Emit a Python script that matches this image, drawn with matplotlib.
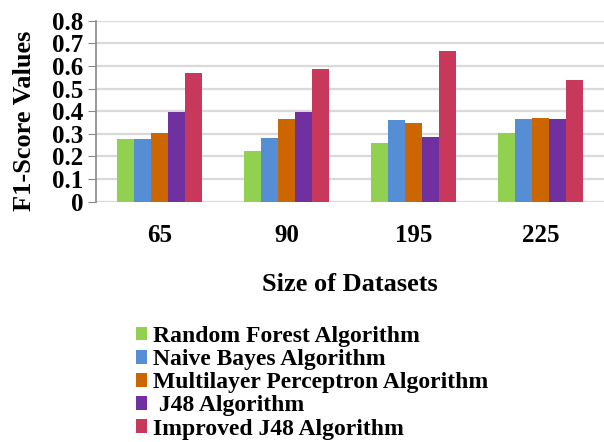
import matplotlib.pyplot as plt
import numpy as np

# dataset sizes on the x axis
sizes = ['65', '90', '195', '225']

random_forest = [0.277, 0.224, 0.258, 0.302]
naive_bayes = [0.277, 0.280, 0.359, 0.365]
multilayer = [0.305, 0.365, 0.346, 0.370]
j48 = [0.395, 0.395, 0.286, 0.365]
improved_j48 = [0.569, 0.586, 0.666, 0.538]

labels = ['Random Forest Algorithm', 'Naive Bayes Algorithm',
          'Multilayer Perceptron Algorithm', ' J48 Algorithm',
          'Improved J48 Algorithm']
colors = ['#92d050', '#558ed5', '#cc6600', '#7030a0', '#c8385a']
series = [random_forest, naive_bayes, multilayer, j48, improved_j48]

plt.rcParams['font.family'] = ['Liberation Serif', 'DejaVu Serif']
plt.rcParams['font.weight'] = 'bold'

fig = plt.figure(figsize=(6.04, 4.42), dpi=100)
ax = fig.add_axes([0.159, 0.544, 0.841, 0.409])

x = np.arange(len(sizes))
w = 0.134
handles = []
for i, vals in enumerate(series):
    b = ax.bar(x + (i - 2) * w, vals, w, color=colors[i], label=labels[i], zorder=3)
    handles.append(b)

ax.set_xlim(-0.5, 3.5)
ax.set_ylim(0, 0.8)
ax.set_yticks(np.arange(0, 0.81, 0.1))
ax.set_yticklabels(['0'] + ['%.1f' % v for v in np.arange(0.1, 0.81, 0.1)], fontsize=18)
ax.set_xticks(x)
ax.set_xticklabels(sizes, fontsize=18)
ax.tick_params(axis='x', length=0, pad=16)
ax.tick_params(axis='y', length=6, color='#888888', pad=3)
ax.yaxis.grid(True, color='#d9d9d9', linewidth=1.6, zorder=0)
for s in ['top', 'right', 'bottom']:
    ax.spines[s].set_visible(False)
ax.spines['left'].set_color('#888888')
ax.spines['left'].set_linewidth(1.2)

ax.set_ylabel('F1-Score Values', fontsize=19, fontweight='bold')
ax.yaxis.set_label_coords(-0.118, 0.446)
ax.set_xlabel('Size of Datasets', fontsize=19, fontweight='bold', labelpad=19)

fig.legend(handles=handles, loc='upper left', bbox_to_anchor=(0.205, 0.289),
           frameon=False, fontsize=17, handlelength=0.5, handleheight=0.5,
           handletextpad=0.25, labelspacing=0.09, borderpad=0)

fig.savefig('out.png', dpi=100)
